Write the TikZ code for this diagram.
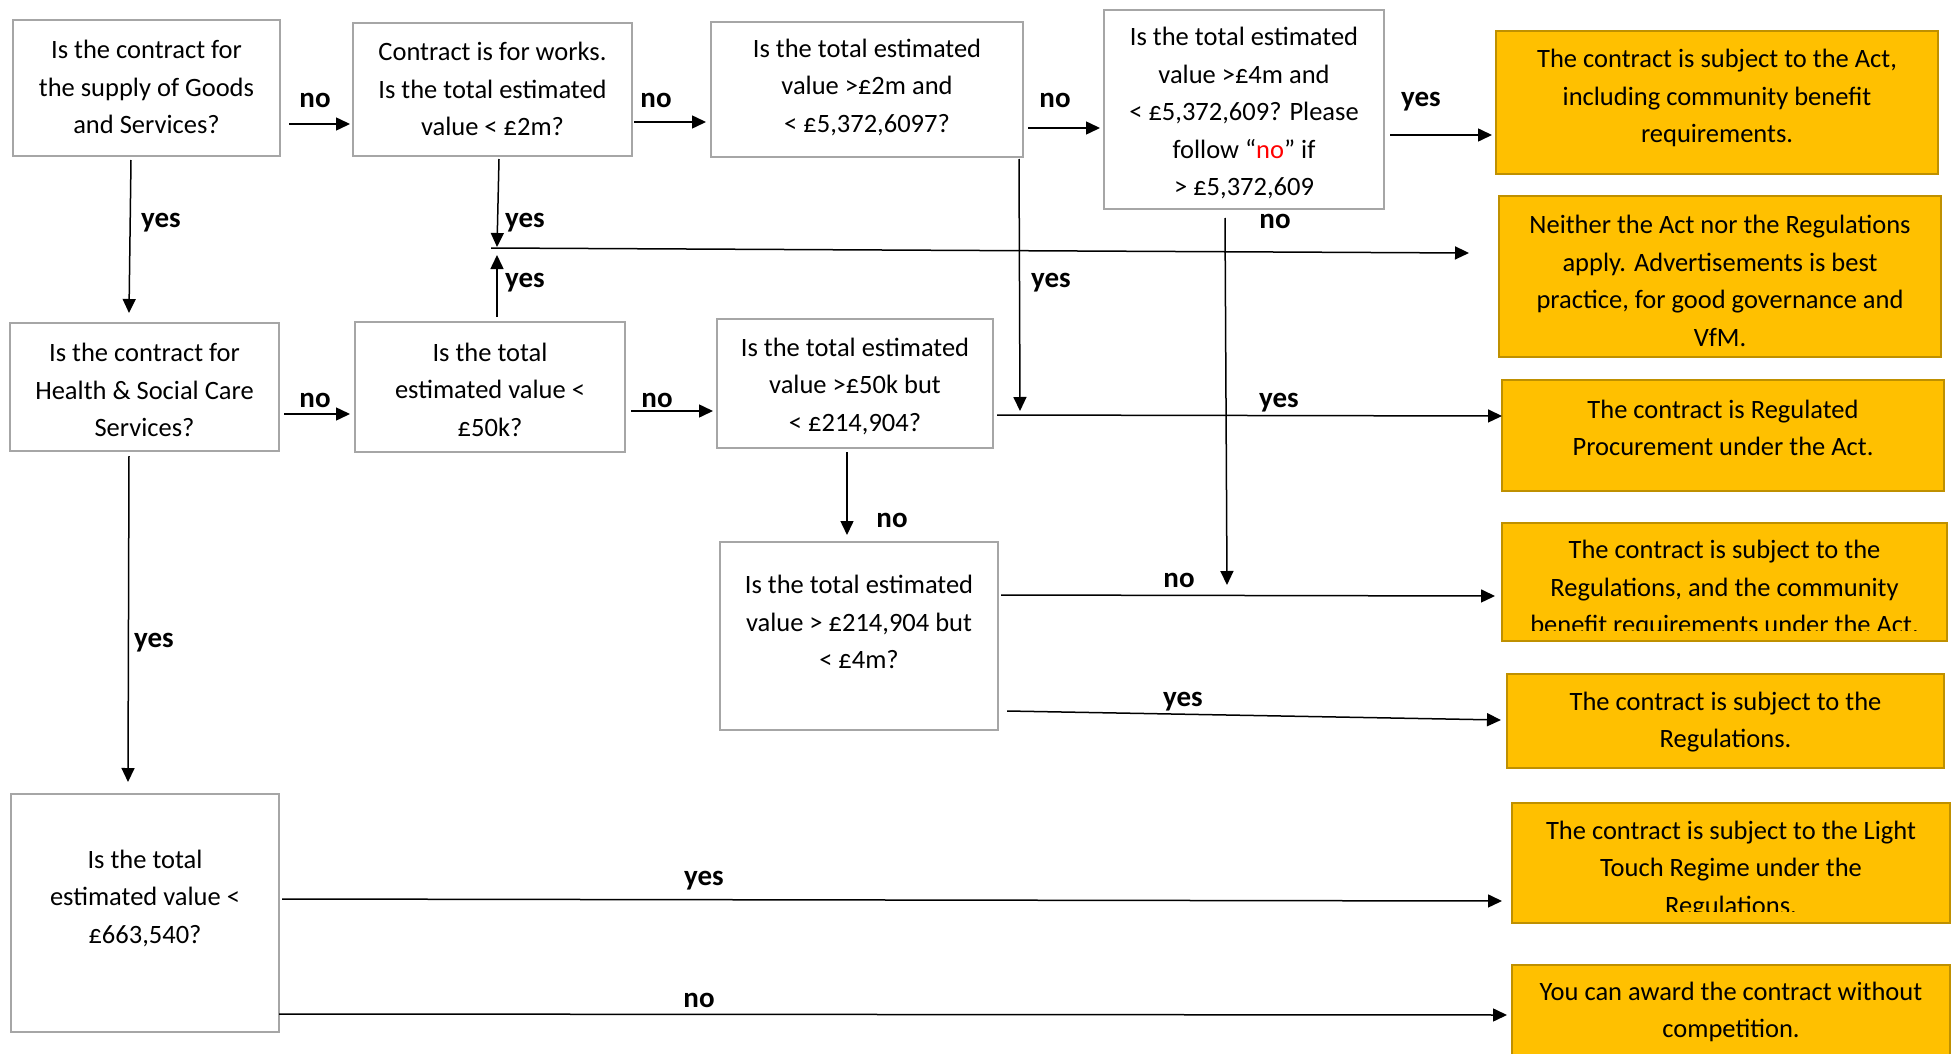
\documentclass[tikz,border=0pt]{standalone}
\usepackage{fontspec}
\setmainfont{Carlito}
\usetikzlibrary{calc,arrows.meta}
\definecolor{gold}{HTML}{FFC000}
\definecolor{goldline}{HTML}{BF9000}
\definecolor{qgray}{HTML}{A6A6A6}
\begin{document}
\begin{tikzpicture}[x=0.5pt,y=-0.5pt,
  qbox/.style={draw=qgray, line width=1.2pt, fill=white, inner sep=0pt, outer sep=0pt},
  obox/.style={draw=goldline, line width=1.1pt, fill=gold, inner sep=0pt, outer sep=0pt},
  txt/.style={align=center, font=\fontsize{13.25}{18.75}\selectfont, inner sep=0pt},
  lab/.style={font=\fontsize{14.5}{16}\selectfont\bfseries, inner sep=0pt, anchor=base},
  arr/.style={line width=0.75pt, -{Triangle[length=7pt,width=6.5pt]}},
  ln/.style={line width=0.75pt}]

\useasboundingbox (0,0) rectangle (1953,1054);
\clip (0,0) rectangle (1953,1054);

% question boxes
\node[qbox, minimum width=133.5pt, minimum height=68pt]  (b1) at (146.5,88) {};
\node[qbox, minimum width=139.5pt, minimum height=66.5pt] (b2) at (492.5,89.5) {};
\node[qbox, minimum width=156pt, minimum height=67.5pt]  (b3) at (867,89.5) {};
\node[qbox, minimum width=140pt, minimum height=99.5pt]  (b4) at (1244,109.5) {};
\node[qbox, minimum width=134.5pt, minimum height=64pt]  (b5) at (144.5,387) {};
\node[qbox, minimum width=135pt, minimum height=65pt]    (b6) at (490,387) {};
\node[qbox, minimum width=138pt, minimum height=64.5pt]  (b7) at (855,383.5) {};
\node[qbox, minimum width=139pt, minimum height=94pt]    (b8) at (859,636) {};
\node[qbox, minimum width=134pt, minimum height=119pt]   (b9) at (145,913) {};

% outcome boxes
\node[obox, minimum width=221pt, minimum height=71.5pt]  (o1) at (1717,102.5) {};
\node[obox, minimum width=221pt, minimum height=80.5pt]  (o2) at (1720,276.5) {};
\node[obox, minimum width=221pt, minimum height=55.5pt]  (o3) at (1723,435.5) {};
\node[obox, minimum width=222.5pt, minimum height=59pt]  (o4) at (1724.5,582) {};
\node[obox, minimum width=218.5pt, minimum height=47pt]  (o5) at (1725.5,721) {};
\node[obox, minimum width=219pt, minimum height=60pt]    (o6) at (1731,863) {};
\node[obox, minimum width=219pt, minimum height=57.5pt]  (o7) at (1731,1022.5) {};

% question texts
\node[txt] (b1t) at ($(b1)+(0,-1)$) {Is the contract for\\the supply of Goods\\and Services?};
\node[txt] (b2t) at ($(b2)+(0,-0.5)$) {Contract is for works.\\Is the total estimated\\value < £2m?};
\node[txt] (b3t) at ($(b3)+(0,-2.5)$) {Is the total estimated\\value >£2m and\\< £5,372,6097?};
\node[txt] (b4t) at ($(b4)+(0,3.5)$) {Is the total estimated\\value >£4m and\\< £5,372,609? Please\\follow “{\color{red}no}” if\\> £5,372,609};
\node[txt] (b5t) at ($(b5)+(0,3)$) {Is the contract for\\Health \& Social Care\\Services?};
\node[txt] (b6t) at ($(b6)+(0,2.5)$) {Is the total\\estimated value <\\£50k?};
\node[txt] (b7t) at ($(b7)+(0,2.5)$) {Is the total estimated\\value >£50k but\\< £214,904?};
\node[txt] (b8t) at ($(b8)+(0,-14)$) {Is the total estimated\\value > £214,904 but\\< £4m?};
\node[txt] (b9t) at ($(b9)+(0,-15)$) {Is the total\\estimated value <\\£663,540?};

% outcome texts
\node[txt] (o1t) at ($(o1)+(0,-4.5)$) {The contract is subject to the Act,\\including community benefit\\requirements.};
\node[txt] (o2t) at ($(o2)+(0,4.5)$) {Neither the Act nor the Regulations\\apply. Advertisements is best\\practice, for good governance and\\VfM.};
\node[txt] (o3t) at ($(o3)+(0,-7.5)$) {The contract is Regulated\\Procurement under the Act.};
\begin{scope}
  \clip (o4.north west) rectangle ($(o4.south east)+(0,-11)$);
  \node[txt] (o4t) at ($(o4)+(0,7)$) {The contract is subject to the\\Regulations, and the community\\benefit requirements under the Act.};
\end{scope}
\node[txt] (o5t) at ($(o5)+(0,1)$) {The contract is subject to the\\Regulations.};
\begin{scope}
  \clip (o6.north west) rectangle ($(o6.south east)+(0,-12)$);
  \node[txt] (o6t) at ($(o6)+(0,7)$) {The contract is subject to the Light\\Touch Regime under the\\Regulations.};
\end{scope}
\node[txt] (o7t) at ($(o7)+(0,-10.5)$) {You can award the contract without\\competition.};

% junction points
\coordinate (j1) at (497,248);
\coordinate (j2) at (1020,415);
\coordinate (j3) at (1227,595);

% connectors
\draw[arr] ($(b1.east)+(9,36)$) -- ($(b2.west)+(-3,34.5)$);
\draw[arr] ($(b2.east)+(2,32.5)$) -- ($(b3.west)+(-5,32.5)$);
\draw[arr] ($(b3.east)+(5,38.5)$) -- ($(b4.west)+(-4,18.5)$);
\draw[arr] ($(b4.east)+(6,25.5)$) -- ($(o1.west)+(-4,32.5)$);
\draw[arr] ($(b1.south)+(-15.5,4)$) -- ($(b5.north)+(-15.5,-10)$);
\draw[arr] ($(b2.south)+(6.5,3)$) -- ($(j1)+(0,-1)$);
\draw[arr] ($(j1)+(-6,0)$) -- ($(o2.west)+(-30,-23.5)$);
\draw[arr] ($(b6.north)+(7,-5)$) -- ($(j1)+(0,7)$);
\draw[arr] ($(b3.south)+(152,2)$) -- ($(j2)+(0,-4)$);
\draw[arr] ($(b7.east)+(4,31.5)$) -- ($(o3.west)+(0,-19.5)$);
\draw[arr] ($(b4.south)+(-19,9)$) -- ($(j3)+(0,-10)$);
\draw[arr] ($(b7.south)+(-8,4)$) -- ($(b8.north)+(-12,-7)$);
\draw[arr] ($(b8.east)+(3,-41)$) -- ($(o4.west)+(-7,14)$);
\draw[arr] ($(b8.east)+(9,75)$) -- ($(o5.west)+(-6,-1)$);
\draw[arr] ($(b5.south)+(-15.5,5)$) -- ($(b9.north)+(-17,-12)$);
\draw[arr] ($(b9.east)+(3,-14)$) -- ($(o6.west)+(-10,38)$);
\draw[arr] ($(b9.east)+(0,101)$) -- ($(o7.west)+(-5,-7.5)$);
\draw[arr] ($(b5.east)+(5,27)$) -- ($(b6.west)+(-5,27)$);
\draw[arr] ($(b6.east)+(6,24)$) -- ($(b7.west)+(-4,27.5)$);

% labels
\node[lab] (l1)  at (315,108) {no};
\node[lab] (l2)  at (656,108) {no};
\node[lab] (l3)  at (1055,108) {no};
\node[lab] (l4)  at (1421,106) {yes};
\node[lab] (l5)  at (525,227) {yes};
\node[lab] (l6)  at (525,287) {yes};
\node[lab] (l7)  at (161,227) {yes};
\node[lab] (l8)  at (1051,287) {yes};
\node[lab] (l9)  at (1275,228) {no};
\node[lab] (l10) at (315,407) {no};
\node[lab] (l11) at (657,407) {no};
\node[lab] (l12) at (1279,407) {yes};
\node[lab] (l13) at (892,527) {no};
\node[lab] (l14) at (1179,587) {no};
\node[lab] (l15) at (1183,706) {yes};
\node[lab] (l16) at (154,647) {yes};
\node[lab] (l17) at (704,885) {yes};
\node[lab] (l18) at (699,1007) {no};
\end{tikzpicture}
\end{document}
